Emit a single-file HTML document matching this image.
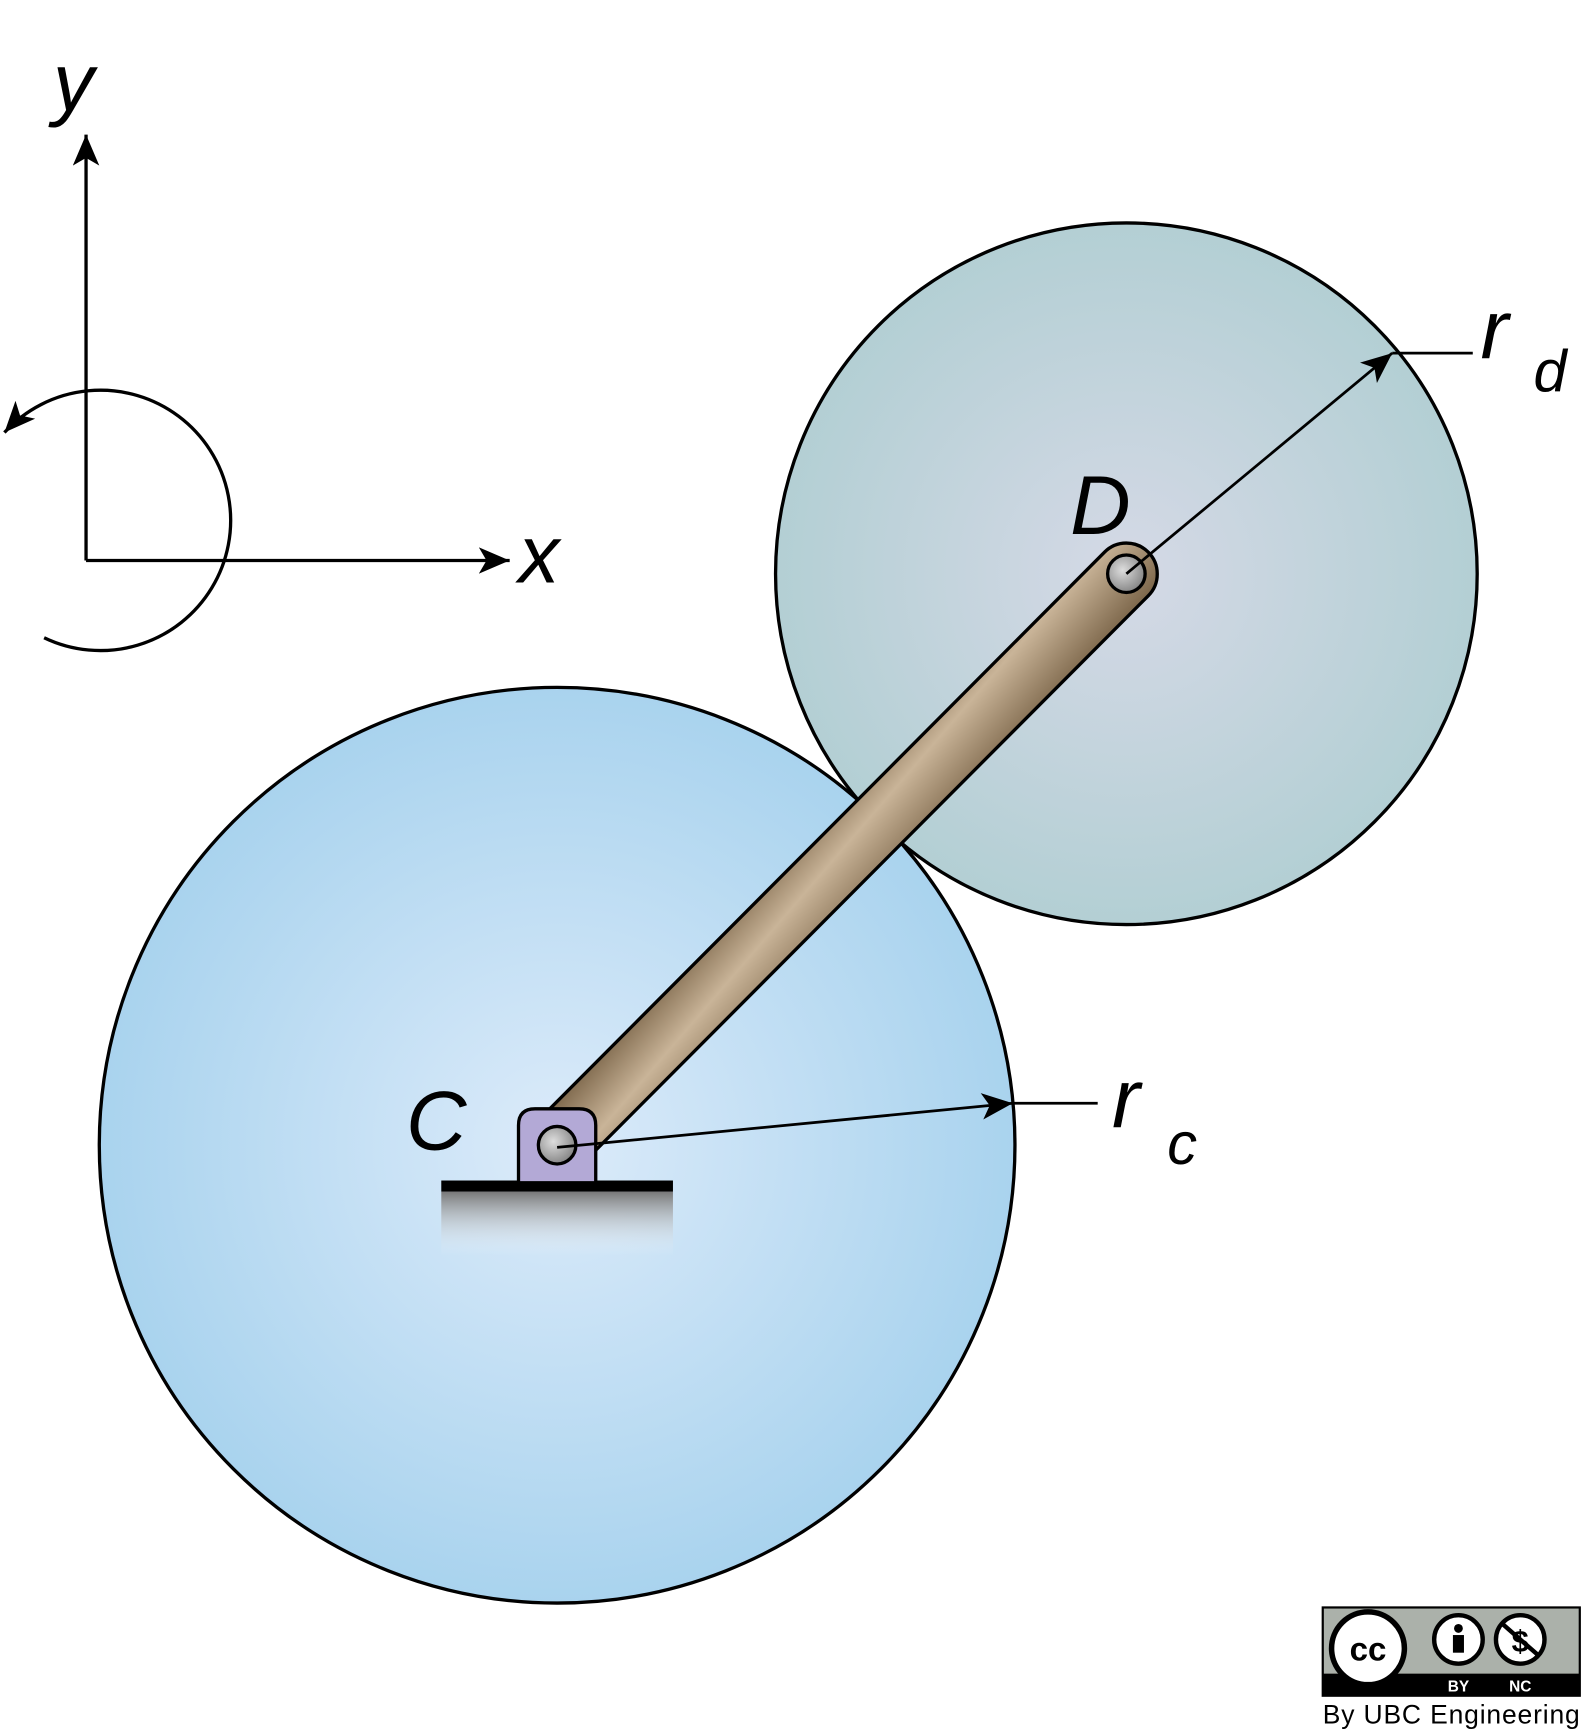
<!DOCTYPE html>
<html><head><meta charset="utf-8"><style>html,body{margin:0;padding:0;background:#fff}svg{display:block}</style></head>
<body>
<svg width="1582" height="1730" viewBox="0 0 1434 1568" xmlns="http://www.w3.org/2000/svg" font-family="Liberation Sans, sans-serif">
<defs>
<radialGradient id="gc" cx="0.5" cy="0.5" r="0.5"><stop offset="0" stop-color="#dcebfa"/><stop offset="1" stop-color="#a9d3ee"/></radialGradient>
<radialGradient id="gd" cx="0.5" cy="0.5" r="0.5"><stop offset="0" stop-color="#d5d9e6"/><stop offset="1" stop-color="#b3cfd4"/></radialGradient>
<linearGradient id="rod" x1="0" y1="0" x2="1" y2="1"><stop offset="0" stop-color="#7a6448"/><stop offset="0.45" stop-color="#c9b498"/><stop offset="1" stop-color="#7a6448"/></linearGradient>
<linearGradient id="shadow" x1="0" y1="0" x2="0" y2="1"><stop offset="0" stop-color="#777"/><stop offset="1" stop-color="#fff" stop-opacity="0"/></linearGradient>
<radialGradient id="pin" cx="0.4" cy="0.4" r="0.6"><stop offset="0" stop-color="#ddd"/><stop offset="1" stop-color="#888"/></radialGradient>
<marker id="ah" markerWidth="12" markerHeight="10" refX="11" refY="5" orient="auto" markerUnits="userSpaceOnUse"><path d="M0,0 L12,5 L0,10 L3,5 Z" fill="#000"/></marker>
<marker id="ah2" markerWidth="30" markerHeight="24" refX="28" refY="12" orient="auto" markerUnits="userSpaceOnUse"><path d="M0,0 L28,12 L0,24 L7,12 Z" fill="#000"/></marker>
</defs>
<g stroke="#000" stroke-width="3" fill="none">
<line x1="78" y1="508" x2="78" y2="122" marker-end="url(#ah2)"/>
<line x1="78" y1="508" x2="462" y2="508" marker-end="url(#ah2)"/>
<path d="M40,578 A118,118 0 1 0 4,392" marker-end="url(#ah2)"/>
</g>
<text x="48" y="100" font-size="74" font-style="italic">y</text>
<text x="470" y="528" font-size="74" font-style="italic">x</text>
<circle cx="1021" cy="520" r="318" fill="url(#gd)" stroke="#000" stroke-width="3"/>
<circle cx="505" cy="1038" r="415" fill="url(#gc)" stroke="#000" stroke-width="3"/>
<rect x="400" y="1080" width="210" height="58" fill="url(#shadow)"/>
<rect x="400" y="1070" width="210" height="10" fill="#000"/>
<g transform="translate(505,1038) rotate(-45.1)">
<rect x="-28" y="-28" width="787" height="56" rx="28" fill="url(#rod)" stroke="#000" stroke-width="3" transform="rotate(0)"/>
</g>
<path d="M470,1072 L470,1020 Q470,1005 485,1005 L525,1005 Q540,1005 540,1020 L540,1072 Z" fill="#b3a9d6" stroke="#000" stroke-width="3"/>
<circle cx="505" cy="1038" r="17" fill="url(#pin)" stroke="#000" stroke-width="3"/>
<circle cx="1021" cy="520" r="17" fill="url(#pin)" stroke="#000" stroke-width="3"/>
<g stroke="#000" stroke-width="2.5" fill="none">
<line x1="505" y1="1040" x2="918" y2="1000" marker-end="url(#ah2)"/>
<line x1="918" y1="1000" x2="995" y2="1000"/>
<line x1="1021" y1="520" x2="1262" y2="320" marker-end="url(#ah2)"/>
<line x1="1262" y1="320" x2="1335" y2="320"/>
</g>
<text x="368" y="1042" font-size="76" font-style="italic">C</text>
<text x="970" y="484" font-size="76" font-style="italic">D</text>
<text x="1008" y="1022" font-size="76" font-style="italic">r</text>
<text x="1058" y="1055" font-size="54" font-style="italic">c</text>
<text x="1342" y="325" font-size="76" font-style="italic">r</text>
<text x="1390" y="355" font-size="54" font-style="italic">d</text>
<g>
<rect x="1199" y="1457" width="233" height="80" fill="#abb1aa" stroke="#000" stroke-width="2"/>
<rect x="1199" y="1517" width="233" height="20" fill="#000"/>
<circle cx="1240" cy="1494" r="33" fill="#fff" stroke="#000" stroke-width="5"/>
<text x="1240" y="1505" font-size="30" font-weight="bold" text-anchor="middle">cc</text>
<circle cx="1322" cy="1486" r="22" fill="#fff" stroke="#000" stroke-width="4"/>
<circle cx="1322" cy="1476" r="4" fill="#000"/><rect x="1317" y="1482" width="10" height="16" fill="#000"/>
<circle cx="1378" cy="1486" r="22" fill="#fff" stroke="#000" stroke-width="4"/>
<text x="1378" y="1497" font-size="28" font-weight="bold" text-anchor="middle">$</text>
<line x1="1362" y1="1472" x2="1394" y2="1500" stroke="#000" stroke-width="4"/>
<text x="1322" y="1533" font-size="14" font-weight="bold" fill="#fff" text-anchor="middle">BY</text>
<text x="1378" y="1533" font-size="14" font-weight="bold" fill="#fff" text-anchor="middle">NC</text>
</g>
<text x="1199" y="1562" font-size="24" textLength="233">By UBC Engineering</text>
</svg>
</body></html>
